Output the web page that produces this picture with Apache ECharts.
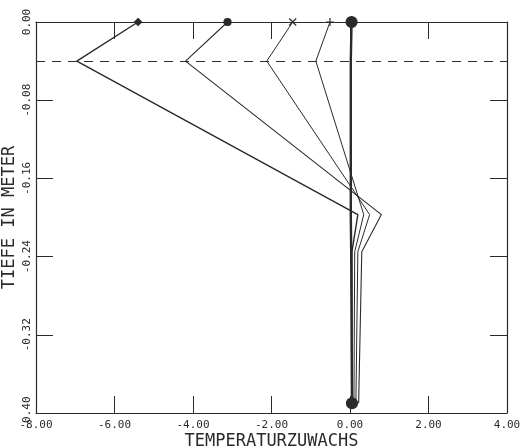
<!DOCTYPE html>
<html><head><meta charset="utf-8">
<script src="https://cdn.jsdelivr.net/npm/echarts@6/dist/echarts.min.js"></script>
<style>html,body{margin:0;padding:0;background:#fff}#c{width:528px;height:448px}</style>
</head><body><div id="c"></div>
<script>
// depth below surface (m); plotted as negative values
const depths = [0, 0.04, 0.197, 0.235, 0.39];
const curveDiamond = [-5.40, -6.96, 0.20, 0.05, 0.05];
const curveDot     = [-3.12, -4.19, 0.80, 0.30, 0.22];
const curveCross   = [-1.46, -2.12, 0.50, 0.20, 0.15];
const curvePlus    = [-0.51, -0.87, 0.35, 0.12, 0.10];
const curveBigDot  = [0.04, 0.02, 0.02, 0.03, 0.05];
const dashedDepth = 0.04;
const xTickLabels = ['-8.00','-6.00','-4.00','-2.00','0.00','2.00','4.00'];
const yTickLabels = ['0.00','-0.08','-0.16','-0.24','-0.32','-0.40'];

const FONT = 'DejaVu Sans Mono';
const INK = '#2a2a2a';
function pts(xs){ return xs.map((x,i)=>[x,-depths[i]]); }
function mk(name, xs, symbol, size, lw, both){
  return {
    name, type:'line', data: pts(xs), symbol, showSymbol:true,
    symbolSize: (v,p)=> (p.dataIndex===0 || (both && p.dataIndex===xs.length-1)) ? size : 0,
    lineStyle:{color:INK, width:lw},
    itemStyle:{color:INK, borderColor:INK, borderWidth:1.2},
    animation:false, z:3
  };
}
const crossPath = 'path://M0,0L10,10M10,0L0,10';
const plusPath = 'path://M5,0L5,10M0,5L10,5';
const chart = echarts.init(document.getElementById('c'));
const xIdx = v => xTickLabels.findIndex(t=>Math.abs(parseFloat(t)-v)<1e-6);
const yFmt = v => { const i = Math.round(-v/0.08); return yTickLabels[i] || ''; };
chart.setOption({
  backgroundColor:'#fff',
  animation:false,
  grid:{left:36, right:21, top:22, bottom:35, containLabel:false, outerBoundsMode:'none'},
  xAxis:[{
    type:'value', min:-8, max:4, interval:2,
    axisLine:{show:true, onZero:false, lineStyle:{color:INK, width:1.2}},
    axisTick:{show:true, inside:true, length:17, lineStyle:{color:INK}},
    axisLabel:{fontFamily:FONT, fontSize:11, color:INK, margin:7,
      formatter: v => { const i = xIdx(v); return i>=0 ? xTickLabels[i] : ''; }},
    splitLine:{show:false},
    name:'TEMPERATURZUWACHS', nameLocation:'middle', nameGap:20, nameMoveOverlap:false,
    nameTextStyle:{fontFamily:FONT, fontSize:17, color:INK}
  },{
    type:'value', min:-8, max:4, interval:2, position:'top',
    axisLine:{show:true, onZero:false, lineStyle:{color:INK, width:1.2}},
    axisTick:{show:true, inside:true, length:17, lineStyle:{color:INK}},
    axisLabel:{show:false}, splitLine:{show:false}
  }],
  yAxis:[{
    type:'value', min:-0.4, max:0, interval:0.08,
    axisLine:{show:true, onZero:false, lineStyle:{color:INK, width:1.2}},
    axisTick:{show:true, inside:true, length:17, lineStyle:{color:INK}},
    axisLabel:{fontFamily:FONT, fontSize:11, color:INK, rotate:90, margin:3, formatter:yFmt},
    splitLine:{show:false},
    name:'TIEFE IN METER', nameLocation:'middle', nameGap:18, nameRotate:90, nameMoveOverlap:false,
    nameTextStyle:{fontFamily:FONT, fontSize:17, color:INK}
  },{
    type:'value', min:-0.4, max:0, interval:0.08, position:'right',
    axisLine:{show:true, onZero:false, lineStyle:{color:INK, width:1.2}},
    axisTick:{show:true, inside:true, length:17, lineStyle:{color:INK}},
    axisLabel:{show:false}, splitLine:{show:false}
  }],
  series:[
    Object.assign(mk('diamond', curveDiamond, 'diamond', 7, 1.4, false), {
      markLine:{silent:true, symbol:'none', label:{show:false},
        lineStyle:{color:INK, type:[9,7], width:1},
        data:[{yAxis:-dashedDepth}]}
    }),
    mk('dot', curveDot, 'circle', 7, 1.1, false),
    mk('cross', curveCross, crossPath, 7, 1.0, false),
    mk('plus', curvePlus, plusPath, 8, 1.0, false),
    mk('bigdot', curveBigDot, 'circle', 11, 2.4, true)
  ]
});
</script></body></html>
